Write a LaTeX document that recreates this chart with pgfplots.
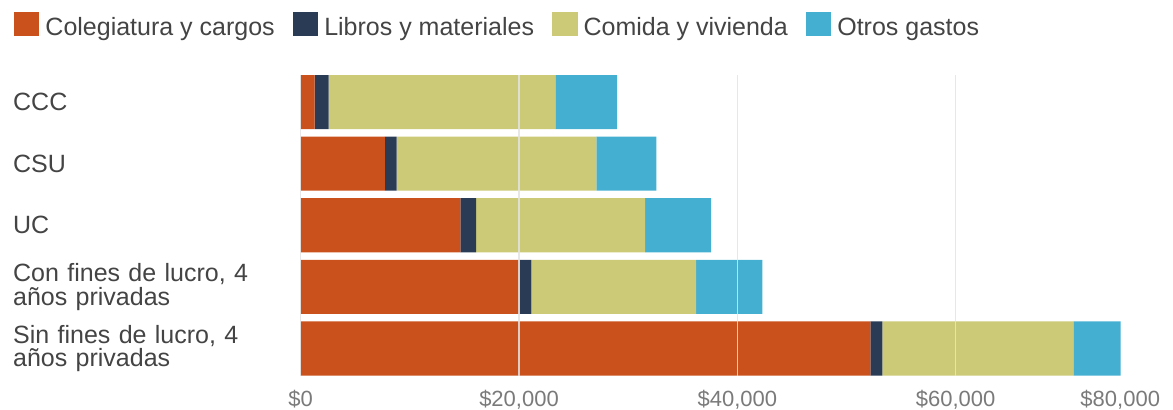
\documentclass[border=0pt]{standalone}
\usepackage{pgfplots}
\pgfplotsset{compat=1.18}
\usepackage{fontspec}
\setmainfont{Liberation Sans}
\definecolor{cOrange}{HTML}{CA511C}
\definecolor{cNavy}{HTML}{2A3B56}
\definecolor{cGreen}{HTML}{CCCA76}
\definecolor{cBlue}{HTML}{45AFD2}
\definecolor{txt}{HTML}{444444}
\definecolor{tickc}{HTML}{7A7A7A}
\begin{document}
\begin{tikzpicture}
\useasboundingbox (0,0) rectangle (1173bp,410bp);
\begin{axis}[
  at={(300.7bp,34.5bp)}, anchor=south west,
  scale only axis, width=873.3bp, height=300.5bp,
  xbar stacked, bar width=0.877,
  y dir=reverse,
  xmin=0, xmax=80000, ymin=-0.4385, ymax=4.4385,
  xtick={0,20000,40000,60000,80000},
  xticklabels={{\$0},{\$20,000},{\$40,000},{\$60,000},{\makebox[0pt][r]{\$80,000\hspace*{14bp}}}},
  ytick={0,1,2,3,4},
  yticklabels={CCC,CSU,UC,{Con fines de lucro, 4\\años privadas},{Sin fines de lucro, 4\\años privadas}},
  axis line style={draw=none},
  major tick length=0pt,
  xmajorgrids, ymajorgrids=false,
  major grid style={draw=gray!22, line width=1.3bp, opacity=0.85},
  axis on top,
  xticklabel style={anchor=base, yshift=-31bp, inner sep=0pt, font=\fontsize{22bp}{24bp}\selectfont, text=tickc},
  yticklabel style={anchor=west, xshift=-287.7bp, inner sep=0pt, text width=260bp, align=left, font=\fontsize{25bp}{23.4bp}\selectfont, text=txt},
  legend columns=4,
  legend cell align=left,
  legend image code/.code={\fill[#1] (0bp,-7.5bp) rectangle (25.5bp,17bp);},
  legend style={at={(-0.32829,1.21065)}, anchor=north west, draw=none, fill=none,
    inner sep=0pt, outer sep=0pt, font=\fontsize{25bp}{30bp}\selectfont, text=txt,
    nodes={inner sep=0pt, text height=18bp, text depth=5bp},
    /tikz/every odd column/.append style={column sep=6bp},
    /tikz/every even column/.append style={column sep=18bp}},
]
\addplot[fill=cOrange, draw=none] coordinates {(1280,0) (7720,1) (14620,2) (20030,3) (52190,4)};
\addlegendentry{Colegiatura y cargos}
\addplot[fill=cNavy, draw=none] coordinates {(1280,0) (1070,1) (1440,2) (1100,3) (1100,4)};
\addlegendentry{Libros y materiales}
\addplot[fill=cGreen, draw=none] coordinates {(20760,0) (18290,1) (15480,2) (15090,3) (17500,4)};
\addlegendentry{Comida y vivienda}
\addplot[fill=cBlue, draw=none] coordinates {(5660,0) (5500,1) (6050,2) (6070,3) (4310,4)};
\addlegendentry{Otros gastos}
\end{axis}
\end{tikzpicture}
\end{document}
